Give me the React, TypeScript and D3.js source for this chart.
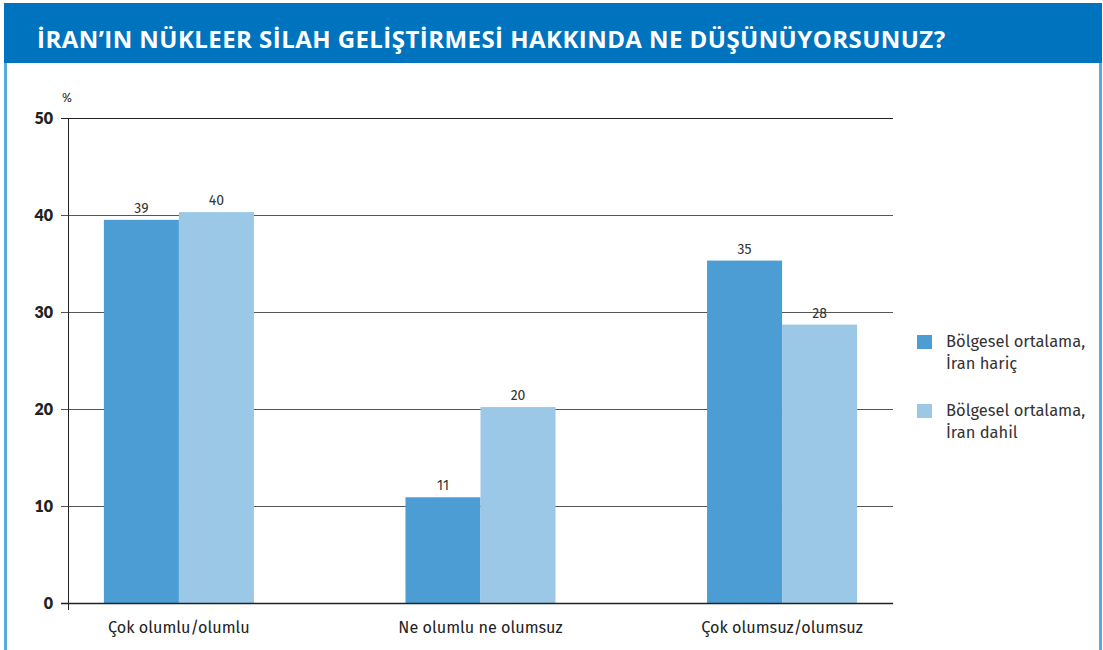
import React from "react";
import * as d3 from "d3";

const title = "İRAN’IN NÜKLEER SİLAH GELİŞTİRMESİ HAKKINDA NE DÜŞÜNÜYORSUNUZ?";
const categories = ["Çok olumlu/olumlu", "Ne olumlu ne olumsuz", "Çok olumsuz/olumsuz"];
const seriesNames = ["Bölgesel ortalama,|İran hariç", "Bölgesel ortalama,|İran dahil"];
const excludingIran = [39.5, 10.9, 35.3];
const includingIran = [40.3, 20.2, 28.7];
const excludingLabels = ["39", "11", "35"];
const includingLabels = ["40", "20", "28"];
const yTicks = [0, 10, 20, 30, 40, 50];

const W = 1103;
const H = 650;
const left = 68;
const right = 893;
const top = 118;
const bottom = 603;
const colors = ["#4b9dd4", "#9bc8e6"];
const titleBlue = "#0073bf";

export default function App() {
  const y = d3.scaleLinear().domain([0, 50]).range([bottom, top]);
  const x = d3
    .scaleBand<string>()
    .domain(categories)
    .range([left, right])
    .paddingInner(0.5025)
    .paddingOuter(0.119);
  const sub = d3.scaleBand<number>().domain([0, 1]).range([0, x.bandwidth()]);
  const series = [
    { values: excludingIran, labels: excludingLabels },
    { values: includingIran, labels: includingLabels },
  ];
  const sans = "'Fira Sans', 'Open Sans', 'Noto Sans', sans-serif";

  return (
    <svg
      width={W}
      height={H}
      style={{ position: "absolute", left: 0, top: 0 }}
      fontFamily={sans}
    >
      <rect x={0} y={0} width={W} height={H} fill="#fff" />
      {/* frame */}
      <line x1={5.5} x2={5.5} y1={60} y2={H} stroke="#5aa9dd" strokeWidth={3} />
      <line x1={1100.5} x2={1100.5} y1={60} y2={H} stroke="#5aa9dd" strokeWidth={3} />
      <rect x={4} y={3} width={1098} height={60} fill={titleBlue} />
      <text
        x={37}
        y={48}
        fill="#fff"
        fontSize={24}
        fontWeight={700}
        letterSpacing={0.45}
        fontFamily="'Open Sans', sans-serif"
      >
        {title}
      </text>

      {/* gridlines */}
      {yTicks.map((t) => (
        <g key={t}>
          <line x1={61} x2={right} y1={y(t) + 0.5} y2={y(t) + 0.5} stroke={t === 0 || t === 50 ? "#222" : "#555"} strokeWidth={1} />
          <text
            x={53}
            y={y(t)}
            dy="0.38em"
            textAnchor="end"
            fontSize={16}
            fontWeight={800}
            fill="#222"
            fontFamily="Lato, 'Open Sans', sans-serif"
          >
            {t}
          </text>
        </g>
      ))}
      <text x={62} y={102} fontSize={12} fill="#333">%</text>

      {/* bars */}
      {categories.map((c, i) => (
        <g key={c}>
          {series.map((s, j) => {
            const bx = (x(c) as number) + (sub(j) as number);
            const by = y(s.values[i]);
            return (
              <g key={j}>
                <rect x={bx} y={by} width={sub.bandwidth()} height={bottom - by} fill={colors[j]} />
                <text
                  x={bx + sub.bandwidth() / 2}
                  y={by - 7}
                  textAnchor="middle"
                  fontSize={14}
                  fill="#333"
                >
                  {s.labels[i]}
                </text>
              </g>
            );
          })}
          <text
            x={(x(c) as number) + x.bandwidth() / 2}
            y={633}
            textAnchor="middle"
            fontSize={16.2}
            fill="#222"
          >
            {c}
          </text>
        </g>
      ))}

      {/* axes */}
      <line x1={left + 0.5} x2={left + 0.5} y1={top} y2={610} stroke="#222" strokeWidth={1} />
      <line x1={61} x2={right} y1={bottom + 0.5} y2={bottom + 0.5} stroke="#222" strokeWidth={1.5} />

      {/* legend */}
      {seriesNames.map((n, j) => {
        const [l1, l2] = n.split("|");
        const ly = 335 + j * 69;
        return (
          <g key={n}>
            <rect x={917} y={ly} width={15} height={14} fill={colors[j]} />
            <text x={946} y={ly + 12} fontSize={16.5} fill="#333">{l1}</text>
            <text x={946} y={ly + 34} fontSize={16.5} fill="#333">{l2}</text>
          </g>
        );
      })}
    </svg>
  );
}
